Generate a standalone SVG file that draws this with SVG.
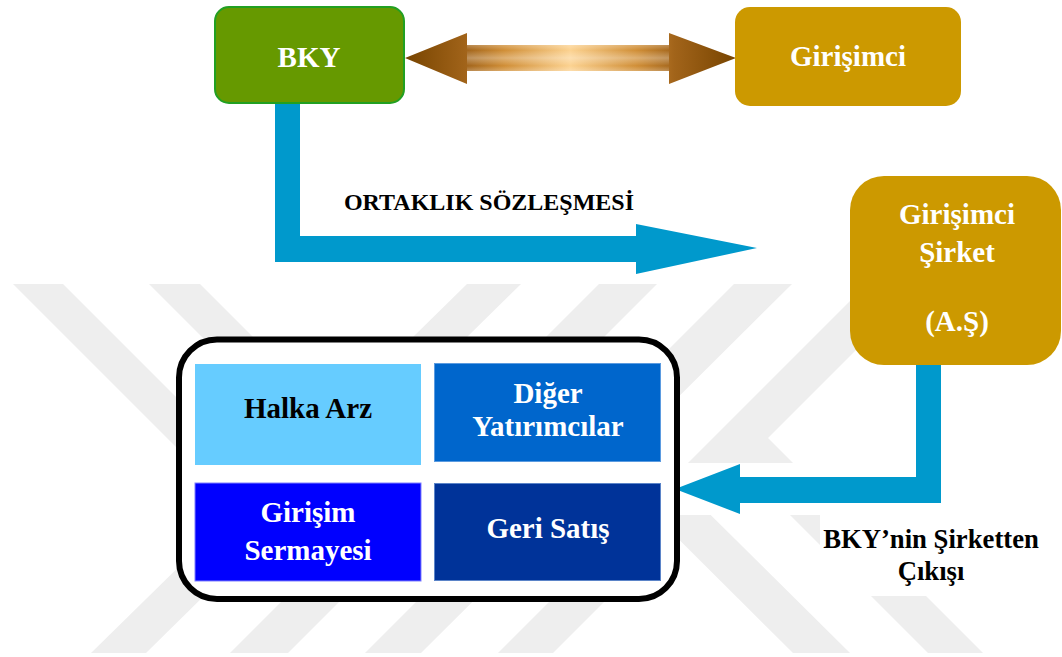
<svg xmlns="http://www.w3.org/2000/svg" width="1062" height="657" viewBox="0 0 1062 657">
<defs>
<style>
.t{font-family:"Liberation Serif","Times New Roman",serif;font-weight:bold;text-anchor:middle}
.w{fill:#ffffff;font-size:29px}
.k{fill:#000000}
.wm{fill:#eeeeee}
.blue{fill:#0099cc}
.gold{fill:#cc9900}
</style>
<linearGradient id="dbl" x1="405" y1="0" x2="736" y2="0" gradientUnits="userSpaceOnUse">
<stop offset="0" stop-color="#774400"/>
<stop offset="0.187" stop-color="#a2641a"/>
<stop offset="0.3" stop-color="#d08e36"/>
<stop offset="0.5" stop-color="#fcd290"/>
<stop offset="0.7" stop-color="#d08e36"/>
<stop offset="0.813" stop-color="#a2641a"/>
<stop offset="1" stop-color="#774400"/>
</linearGradient>
<linearGradient id="shv" x1="0" y1="45" x2="0" y2="71" gradientUnits="userSpaceOnUse">
<stop offset="0" stop-color="#ffffff" stop-opacity="0.25"/>
<stop offset="0.2" stop-color="#ffffff" stop-opacity="0"/>
<stop offset="0.5" stop-color="#ffffff" stop-opacity="0.3"/>
<stop offset="0.8" stop-color="#ffffff" stop-opacity="0"/>
<stop offset="1" stop-color="#ffffff" stop-opacity="0.25"/>
</linearGradient>
</defs>
<rect width="1062" height="657" fill="#ffffff"/>
<g id="watermark">
<polygon class="wm" points="91,653 146,653 521,284 467,284"/>
<polygon class="wm" points="230,653 288,653 657,284 599,284"/>
<polygon class="wm" points="365,653 421,653 792,284 734,284"/>
<polygon class="wm" points="498,653 553,653 922,284 867,284"/>
<polygon class="wm" points="13,284 63,284 290,511 240,511"/>
<polygon class="wm" points="149,284 200,284 432,516 381,516"/>
<polygon class="wm" points="575,436 631,436 850,653 793,653"/>
<polygon class="wm" points="713,438 768,438 983,653 928,653"/>
<rect x="675" y="463" width="266" height="52" fill="#ffffff"/>
<rect x="820" y="515" width="225" height="81" fill="#ffffff"/>
</g>
<g id="connectors">
<g id="partnership">
<polygon points="405,58 467,33 467,45 669,45 669,33 736,58 669,84 669,71 467,71 467,84" fill="url(#dbl)"/>
<rect x="467" y="45" width="202" height="26" fill="url(#shv)"/>
</g>
<polygon id="bky-to-company" class="blue" points="275,103 300,103 300,236 636,236 636,224 757,248 636,274 636,262 275,262"/>
<polygon id="company-to-exit" class="blue" points="916,365 941,365 941,503 740,503 740,514 675,489 740,464 740,477 916,477"/>
<text class="t k" x="489" y="210" font-size="24">ORTAKLIK SÖZLEŞMESİ</text>
<text class="t k" x="931" y="548" font-size="26.7">BKY’nin Şirketten</text>
<text class="t k" x="931" y="580" font-size="26.7">Çıkışı</text>
</g>
<g id="bky">
<rect x="215" y="7" width="189" height="96" rx="14" fill="#669900" stroke="#22a022" stroke-width="2"/>
<text class="t w" x="309" y="67">BKY</text>
</g>
<g id="girisimci">
<rect x="735" y="7" width="226" height="99" rx="15" class="gold"/>
<text class="t w" x="848" y="66">Girişimci</text>
</g>
<g id="girisimci-sirket">
<rect x="850" y="176" width="211" height="189" rx="34" class="gold"/>
<text class="t w" x="957" y="224">Girişimci</text>
<text class="t w" x="957" y="262">Şirket</text>
<text class="t w" x="957" y="331">(A.Ş)</text>
</g>
<g id="exit-options">
<rect x="179" y="339.5" width="498" height="259.5" rx="38" fill="#ffffff" stroke="#000000" stroke-width="6"/>
<g id="halka-arz">
<rect x="195" y="364" width="226" height="101" fill="#66ccff"/>
<text class="t k" x="308" y="418" font-size="29">Halka Arz</text>
</g>
<g id="diger-yatirimcilar">
<rect x="434.5" y="363.5" width="226" height="98" fill="#0066cc" stroke="#5b9be0" stroke-width="1"/>
<text class="t w" x="548" y="403">Diğer</text>
<text class="t w" x="548" y="436">Yatırımcılar</text>
</g>
<g id="girisim-sermayesi">
<rect x="195" y="483" width="226" height="98" fill="#0000ff" stroke="#8080ff" stroke-width="1"/>
<text class="t w" x="308" y="522">Girişim</text>
<text class="t w" x="308" y="560">Sermayesi</text>
</g>
<g id="geri-satis">
<rect x="434.5" y="483.5" width="226" height="97" fill="#003399" stroke="#5b84c8" stroke-width="1"/>
<text class="t w" x="548" y="538">Geri Satış</text>
</g>
</g>
</svg>
